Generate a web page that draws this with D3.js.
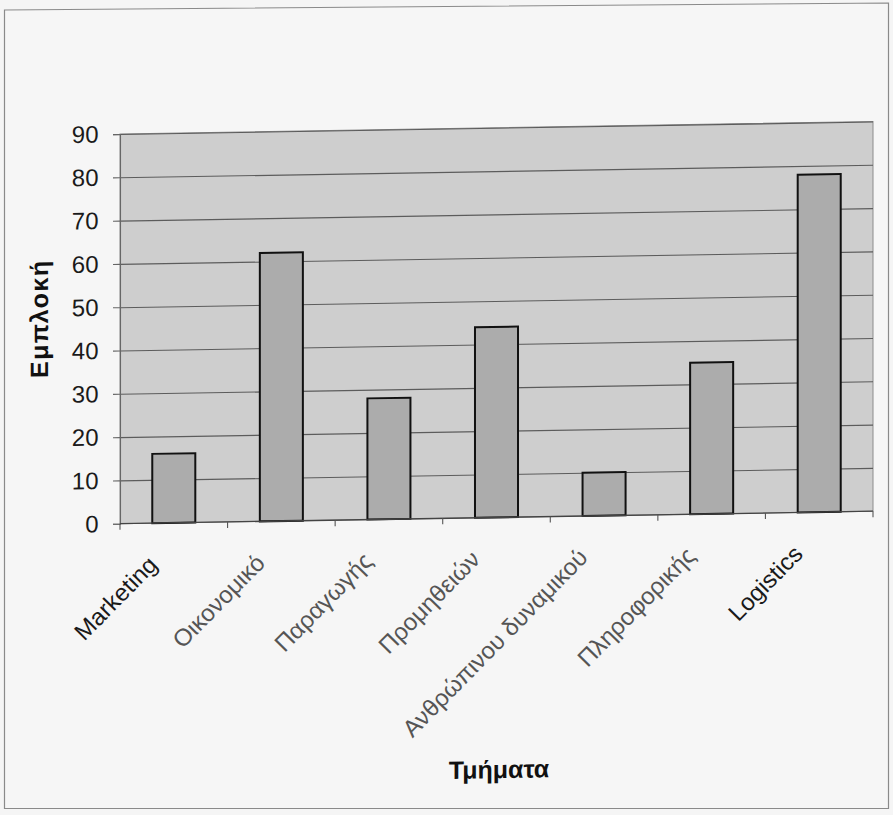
<!DOCTYPE html>
<html>
<head>
<meta charset="utf-8">
<script src="https://cdn.jsdelivr.net/npm/d3@7"></script>
<style>
  html, body { margin: 0; padding: 0; background: #f5f5f5; }
  svg { display: block; }
  text { font-family: "Liberation Sans", Arial, sans-serif; }
</style>
</head>
<body>
<svg id="chart" width="893" height="815"></svg>
<script>
// Departments and their involvement scores
const categories = ["Marketing", "Οικονομικό", "Παραγωγής", "Προμηθειών", "Ανθρώπινου δυναμικού", "Πληροφορικής", "Logistics"];
const values = [16, 62, 28, 44, 10, 35, 78];
const yTicks = [0, 10, 20, 30, 40, 50, 60, 70, 80, 90];
const yTitle = "Εμπλοκή";
const xTitle = "Τμήματα";

const plot = { left: 120, right: 873, top: 128.6, bottom: 518.3 };

const svg = d3.select("#chart");

// outer chart frame
svg.append("path")
  .attr("d", "M4.5,10 L888.5,3 L888.5,808.5 L4.5,808.5 Z")
  .attr("fill", "#f6f6f6")
  .attr("stroke", "#8a8a8a")
  .attr("stroke-width", 1.2);

// the whole drawing leans slightly (sheared around the middle of the page)
const g = svg.append("g")
  .attr("transform", "translate(446,0) skewY(-0.95) translate(-446,0)");

const x = d3.scaleBand()
  .domain(categories)
  .range([plot.left, plot.right])
  .paddingInner(0)
  .paddingOuter(0);

const y = d3.scaleLinear()
  .domain([0, 90])
  .range([plot.bottom, plot.top]);

// plot area background
g.append("rect")
  .attr("x", plot.left)
  .attr("y", plot.top)
  .attr("width", plot.right - plot.left)
  .attr("height", plot.bottom - plot.top)
  .attr("fill", "#cecece")
  .attr("stroke", "#8c8c8c")
  .attr("stroke-width", 1);

// horizontal gridlines
g.append("g")
  .attr("transform", `translate(${plot.left},0)`)
  .call(d3.axisLeft(y).tickValues(yTicks.slice(1)).tickSize(-(plot.right - plot.left)).tickFormat(""))
  .call(s => s.select(".domain").remove())
  .call(s => s.selectAll("line").attr("stroke", "#5c5c5c").attr("stroke-width", 1.1));

// y axis with ticks and labels
g.append("g")
  .attr("transform", `translate(${plot.left},0)`)
  .call(d3.axisLeft(y).tickValues(yTicks).tickSize(7).tickPadding(14.5))
  .call(s => s.select(".domain").attr("stroke", "#666").attr("stroke-width", 1.1))
  .call(s => s.selectAll("line").attr("stroke", "#666").attr("stroke-width", 1.1))
  .call(s => s.selectAll("text")
    .attr("font-size", 24)
    .attr("fill", "#1a1a1a")
    .attr("font-family", "'Liberation Sans', Arial, sans-serif"));

// bars
const barW = x.bandwidth() * 0.4;
g.append("g").selectAll("rect")
  .data(categories.map((c, i) => ({ c, v: values[i] })))
  .join("rect")
  .attr("x", d => x(d.c) + (x.bandwidth() - barW) / 2)
  .attr("y", d => y(d.v))
  .attr("width", barW)
  .attr("height", d => y(0) - y(d.v))
  .attr("fill", "#acacac")
  .attr("stroke", "#111")
  .attr("stroke-width", 2);

// category axis: baseline and tick marks between categories
const xa = g.append("g");
xa.append("line")
  .attr("x1", plot.left).attr("x2", plot.right)
  .attr("y1", y(0)).attr("y2", y(0))
  .attr("stroke", "#444").attr("stroke-width", 1.3);
const boundaries = categories.map(c => x(c)).concat([x.range()[1]]);
xa.selectAll(".tick")
  .data(boundaries)
  .join("line")
  .attr("class", "tick")
  .attr("x1", d => d).attr("x2", d => d)
  .attr("y1", y(0)).attr("y2", y(0) + 6)
  .attr("stroke", "#555").attr("stroke-width", 1.1);

// rotated category labels
const latin = /^[A-Za-z ]+$/;
xa.selectAll(".cat")
  .data(categories)
  .join("text")
  .attr("class", "cat")
  .attr("transform", c => `translate(${x(c) + x.bandwidth() / 2 - 15},${y(0) + 43}) rotate(-45)`)
  .attr("text-anchor", "end")
  .attr("font-size", 24)
  .attr("fill", c => latin.test(c) ? "#1a1a1a" : "#555")
  .text(c => c);

// axis titles
g.append("text")
  .attr("transform", `translate(48,312) rotate(-90)`)
  .attr("text-anchor", "middle")
  .attr("font-size", 25)
  .attr("font-weight", "bold")
  .attr("letter-spacing", 1.5)
  .attr("fill", "#111")
  .text(yTitle);

g.append("text")
  .attr("x", 499)
  .attr("y", 779)
  .attr("text-anchor", "middle")
  .attr("font-size", 25)
  .attr("font-weight", "bold")
  .attr("fill", "#111")
  .text(xTitle);
</script>
</body>
</html>
